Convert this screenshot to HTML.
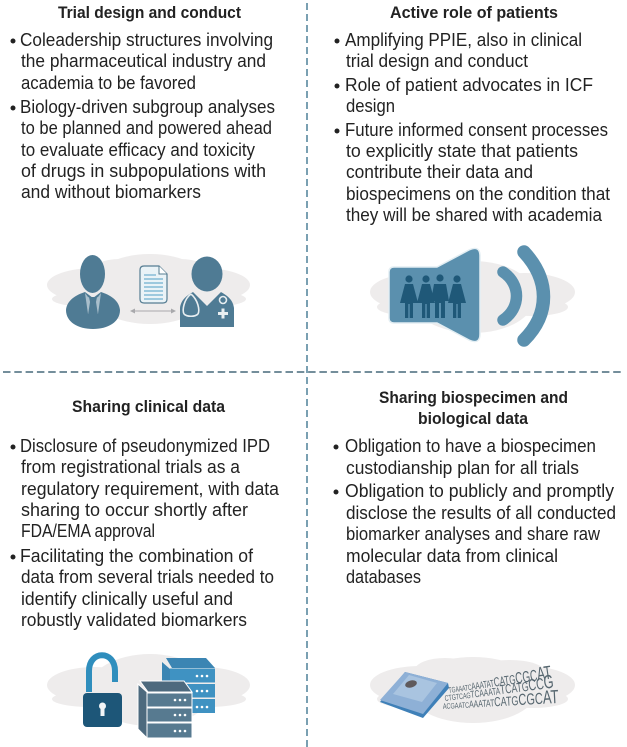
<!DOCTYPE html>
<html>
<head>
<meta charset="utf-8">
<style>
html,body{margin:0;padding:0;background:#fff;width:627px;height:747px;overflow:hidden}
svg{display:block}
text{font-family:"Liberation Sans",sans-serif;fill:#222;font-size:18px}
.t{font-weight:bold;font-size:17px;fill:#222}
.d{font-size:8px;fill:#56666f}
</style>
</head>
<body>
<svg width="627" height="747" viewBox="0 0 627 747" xmlns="http://www.w3.org/2000/svg">
<rect width="627" height="747" fill="#fff"/>

<!-- dividers -->
<line x1="307" y1="3" x2="307" y2="747" stroke="#4f8199" stroke-width="1.5" stroke-dasharray="7 4"/>
<line x1="3" y1="372" x2="624" y2="372" stroke="#46687a" stroke-width="1.6" stroke-dasharray="7.5 3.8"/>

<!-- clouds -->
<g fill="#eeecec">
<ellipse cx="150" cy="289" rx="62" ry="35"/><ellipse cx="95" cy="285" rx="48" ry="17"/><ellipse cx="202" cy="285" rx="48" ry="17"/><ellipse cx="90" cy="299" rx="38" ry="8"/><ellipse cx="208" cy="299" rx="38" ry="8"/><ellipse cx="120" cy="272" rx="30" ry="13"/><ellipse cx="180" cy="272" rx="30" ry="13"/>
<ellipse cx="473" cy="297" rx="62" ry="36"/><ellipse cx="420" cy="292" rx="50" ry="19"/><ellipse cx="525" cy="292" rx="50" ry="19"/><ellipse cx="413" cy="307" rx="36" ry="9"/><ellipse cx="532" cy="307" rx="36" ry="9"/>
<ellipse cx="150" cy="690" rx="62" ry="36"/><ellipse cx="95" cy="685" rx="48" ry="18"/><ellipse cx="202" cy="685" rx="48" ry="18"/><ellipse cx="90" cy="699" rx="38" ry="8"/><ellipse cx="208" cy="699" rx="38" ry="8"/>
<ellipse cx="473" cy="690" rx="64" ry="33"/><ellipse cx="420" cy="685" rx="50" ry="19"/><ellipse cx="525" cy="685" rx="50" ry="19"/><ellipse cx="413" cy="699" rx="36" ry="9"/><ellipse cx="532" cy="699" rx="36" ry="9"/><ellipse cx="445" cy="670" rx="30" ry="12"/><ellipse cx="510" cy="672" rx="35" ry="12"/>
</g>

<!-- Icon 1 -->
<g>
<path d="M66 310C67 300 76 295 85 292L93 298L101 292C110 295 119 300 120 310C120 322 108 329 93 329C78 329 66 322 66 310Z" fill="#4f7b94"/>
<path d="M85 293L88 297L93 299L98 297L101 293L98 314H88Z" fill="#a9bfcc"/>
<path d="M89 297H97L96 302L98 315L93 317L88 315L90 302Z" fill="#4f7b94"/>
<ellipse cx="92.500" cy="274" rx="12.500" ry="19" fill="#4f7b94"/>
<ellipse cx="207" cy="274" rx="15.500" ry="17.500" fill="#4f7b94"/>
<path d="M180 327L180 308C181 299 188 295 193 292L207 306L221 292C226 295 233 299 234 308L234 327Z" fill="#4f7b94"/>
<path d="M191 294C184 299 182 310 184 314M191 294C198 300 200 310 198 314M184 314C187 317 195 317 198 314" stroke="#e8eef1" stroke-width="1.600" fill="none"/>
<circle cx="223" cy="300" r="3.500" fill="none" stroke="#e8eef1" stroke-width="1.600"/>
<path d="M218 312h3.500v-3.500h3v3.500h3.500v3h-3.500v3.500h-3v-3.500h-3.500z" fill="#e8eef1"/>
<path d="M144 266H159L167 274V299Q167 303 163 303H144Q140 303 140 299V270Q140 266 144 266Z" fill="#eaf3f7" stroke="#567d92" stroke-width="1.200"/>
<path d="M159 266V274H167" fill="#fff" stroke="#567d92" stroke-width="1"/>
<g stroke="#6fb0cf" stroke-width="1.200"><line x1="144" y1="275" x2="156" y2="275"/><line x1="144" y1="279" x2="163" y2="279"/><line x1="144" y1="283" x2="163" y2="283"/><line x1="144" y1="287" x2="163" y2="287"/><line x1="144" y1="291" x2="163" y2="291"/><line x1="144" y1="295" x2="163" y2="295"/><line x1="144" y1="299" x2="163" y2="299"/></g>
<line x1="132" y1="311" x2="174" y2="311" stroke="#a9a9ac" stroke-width="1.100"/>
<path d="M130 311L135 308.500V313.500ZM176 311L171 308.500V313.500Z" fill="#a9a9ac"/>
</g>

<!-- Icon 2 -->
<g>
<path d="M394 267H437L469 250Q480 245 480 256V334Q480 345 469 340L437 323H394Q389 323 389 318V272Q389 267 394 267Z" fill="#5b90ae" stroke="#e3eef3" stroke-width="1.500"/>
<path d="M503 272C521 284 521 308 503 320" stroke="#5b90ae" stroke-width="11.500" fill="none" stroke-linecap="round"/>
<path d="M524 252C550 280 550 314 524 340" stroke="#5b90ae" stroke-width="13.500" fill="none" stroke-linecap="round"/>
<g fill="#1f5878">
<circle cx="409" cy="279" r="3.600"/><path d="M405 284H413L418 303H413V318H409.700V304H408.300V318H405V303H400Z"/>
<circle cx="426" cy="279" r="3.600"/><path d="M422 284H430L435 303H430V318H426.700V304H425.300V318H422V303H417Z"/>
<circle cx="440" cy="278" r="3.600"/><path d="M434 284H446L449 301H445V318H441V303H439V318H435V301H431Z"/>
<circle cx="457" cy="279" r="3.600"/><path d="M453 284H461L466 303H461V318H457.700V304H456.300V318H453V303H448Z"/>
</g>
</g>

<!-- Icon 3 -->
<g>
<path d="M89 692V671C89 650 115 650 115 671V682" stroke="#2f8ebd" stroke-width="6" fill="none"/>
<rect x="83" y="693" width="39" height="34" rx="4" fill="#1d5678"/>
<circle cx="102.500" cy="706" r="3.500" fill="#f2f5f7"/><rect x="100.500" y="706" width="4" height="10" fill="#f2f5f7"/>
<path d="M166 658H206L215 668H172Z" fill="#3b85b3"/>
<path d="M162 662L170 669V713L162 705Z" fill="#3b85b3"/>
<rect x="170" y="668.500" width="45" height="14" fill="#3f92c2"/><rect x="170" y="684" width="45" height="13.500" fill="#3f92c2"/><rect x="170" y="699" width="45" height="14" fill="#3f92c2"/>
<g fill="#fff"><circle cx="197" cy="676" r="1.300"/><circle cx="202" cy="676" r="1.300"/><circle cx="207" cy="676" r="1.300"/><circle cx="197" cy="691" r="1.300"/><circle cx="202" cy="691" r="1.300"/><circle cx="207" cy="691" r="1.300"/><circle cx="197" cy="707" r="1.300"/><circle cx="202" cy="707" r="1.300"/><circle cx="207" cy="707" r="1.300"/></g>
<g stroke="#fff" stroke-width="1">
<path d="M140 681H184L192 692H148Z" fill="#4d6a7e"/>
<path d="M138 684L147 692V738L138 729Z" fill="#4d6a7e"/>
<rect x="147" y="693" width="45" height="14" fill="#577a90"/><rect x="147" y="708" width="45" height="14" fill="#577a90"/><rect x="147" y="723" width="45" height="15" fill="#577a90"/>
</g>
<g fill="#fff"><circle cx="175" cy="700" r="1.300"/><circle cx="180" cy="700" r="1.300"/><circle cx="185" cy="700" r="1.300"/><circle cx="175" cy="715" r="1.300"/><circle cx="180" cy="715" r="1.300"/><circle cx="185" cy="715" r="1.300"/><circle cx="175" cy="731" r="1.300"/><circle cx="180" cy="731" r="1.300"/><circle cx="185" cy="731" r="1.300"/></g>
</g>

<!-- Icon 4 -->
<g>
<path d="M380 702L405 672L448 683L449 688L423 718Z" fill="#3f80b8"/>
<path d="M380 700L405 672L448 683L423 714Z" fill="#8eb0d6"/>
<path d="M393 694L409 675L437 683L422 702Z" fill="#a9c4e0"/>
<ellipse cx="411" cy="684" rx="6" ry="3.500" fill="#5f5a5c" transform="rotate(-15 411 684)"/>
<text class="d" transform="translate(449 693) rotate(-8)" textLength="104" lengthAdjust="spacingAndGlyphs">TGAAATC<tspan font-size="10">AAATAT</tspan><tspan font-size="13">CATG</tspan><tspan font-size="16">CGC</tspan><tspan font-size="19">AT</tspan></text>
<text class="d" transform="translate(445 701) rotate(-7)" textLength="110" lengthAdjust="spacingAndGlyphs">CTGTCAG<tspan font-size="10">TCAAATA</tspan><tspan font-size="13">TCATG</tspan><tspan font-size="16">CC</tspan><tspan font-size="19">G</tspan></text>
<text class="d" transform="translate(443 709) rotate(-3)" textLength="116" lengthAdjust="spacingAndGlyphs">ACGAATC<tspan font-size="10">AAATAT</tspan><tspan font-size="13">CATG</tspan><tspan font-size="16">CGC</tspan><tspan font-size="19">AT</tspan></text>
</g>

<!-- Top left text -->
<text class="t" x="58" y="18" textLength="183" lengthAdjust="spacingAndGlyphs">Trial design and conduct</text>
<circle cx="13" cy="41" r="2.500" fill="#222"/>
<text x="20" y="46" textLength="253" lengthAdjust="spacingAndGlyphs">Coleadership structures involving</text>
<text x="21" y="67" textLength="245" lengthAdjust="spacingAndGlyphs">the pharmaceutical industry and</text>
<text x="21" y="89" textLength="175" lengthAdjust="spacingAndGlyphs">academia to be favored</text>
<circle cx="13" cy="108" r="2.500" fill="#222"/>
<text x="20" y="113" textLength="255" lengthAdjust="spacingAndGlyphs">Biology-driven subgroup analyses</text>
<text x="21" y="134" textLength="251" lengthAdjust="spacingAndGlyphs">to be planned and powered ahead</text>
<text x="21" y="156" textLength="234" lengthAdjust="spacingAndGlyphs">to evaluate efficacy and toxicity</text>
<text x="21" y="177" textLength="245" lengthAdjust="spacingAndGlyphs">of drugs in subpopulations with</text>
<text x="21" y="198" textLength="180" lengthAdjust="spacingAndGlyphs">and without biomarkers</text>

<!-- Top right text -->
<text class="t" x="390" y="18" textLength="168" lengthAdjust="spacingAndGlyphs">Active role of patients</text>
<circle cx="337" cy="41" r="2.500" fill="#222"/>
<text x="345" y="46" textLength="237" lengthAdjust="spacingAndGlyphs">Amplifying PPIE, also in clinical</text>
<text x="346" y="67" textLength="182" lengthAdjust="spacingAndGlyphs">trial design and conduct</text>
<circle cx="337" cy="86" r="2.500" fill="#222"/>
<text x="345" y="91" textLength="248" lengthAdjust="spacingAndGlyphs">Role of patient advocates in ICF</text>
<text x="346" y="112" textLength="49" lengthAdjust="spacingAndGlyphs">design</text>
<circle cx="337" cy="131" r="2.500" fill="#222"/>
<text x="345" y="136" textLength="263" lengthAdjust="spacingAndGlyphs">Future informed consent processes</text>
<text x="346" y="157" textLength="232" lengthAdjust="spacingAndGlyphs">to explicitly state that patients</text>
<text x="346" y="178" textLength="187" lengthAdjust="spacingAndGlyphs">contribute their data and</text>
<text x="346" y="200" textLength="264" lengthAdjust="spacingAndGlyphs">biospecimens on the condition that</text>
<text x="346" y="221" textLength="256" lengthAdjust="spacingAndGlyphs">they will be shared with academia</text>

<!-- Bottom left text -->
<text class="t" x="72" y="412" textLength="153" lengthAdjust="spacingAndGlyphs">Sharing clinical data</text>
<circle cx="13" cy="447" r="2.500" fill="#222"/>
<text x="20" y="452" textLength="250" lengthAdjust="spacingAndGlyphs">Disclosure of pseudonymized IPD</text>
<text x="21" y="473" textLength="219" lengthAdjust="spacingAndGlyphs">from registrational trials as a</text>
<text x="21" y="495" textLength="258" lengthAdjust="spacingAndGlyphs">regulatory requirement, with data</text>
<text x="21" y="516" textLength="227" lengthAdjust="spacingAndGlyphs">sharing to occur shortly after</text>
<text x="21" y="537" textLength="134" lengthAdjust="spacingAndGlyphs">FDA/EMA approval</text>
<circle cx="13" cy="557" r="2.500" fill="#222"/>
<text x="20" y="562" textLength="233" lengthAdjust="spacingAndGlyphs">Facilitating the combination of</text>
<text x="21" y="583" textLength="253" lengthAdjust="spacingAndGlyphs">data from several trials needed to</text>
<text x="21" y="605" textLength="212" lengthAdjust="spacingAndGlyphs">identify clinically useful and</text>
<text x="21" y="626" textLength="226" lengthAdjust="spacingAndGlyphs">robustly validated biomarkers</text>

<!-- Bottom right text -->
<text class="t" x="379" y="403" textLength="189" lengthAdjust="spacingAndGlyphs">Sharing biospecimen and</text>
<text class="t" x="418" y="424" textLength="110" lengthAdjust="spacingAndGlyphs">biological data</text>
<circle cx="336" cy="447" r="2.500" fill="#222"/>
<text x="345" y="452" textLength="251" lengthAdjust="spacingAndGlyphs">Obligation to have a biospecimen</text>
<text x="346" y="474" textLength="233" lengthAdjust="spacingAndGlyphs">custodianship plan for all trials</text>
<circle cx="336" cy="492" r="2.500" fill="#222"/>
<text x="345" y="497" textLength="269" lengthAdjust="spacingAndGlyphs">Obligation to publicly and promptly</text>
<text x="346" y="519" textLength="270" lengthAdjust="spacingAndGlyphs">disclose the results of all conducted</text>
<text x="346" y="540" textLength="254" lengthAdjust="spacingAndGlyphs">biomarker analyses and share raw</text>
<text x="346" y="562" textLength="212" lengthAdjust="spacingAndGlyphs">molecular data from clinical</text>
<text x="346" y="583" textLength="75" lengthAdjust="spacingAndGlyphs">databases</text>
</svg>
</body>
</html>
